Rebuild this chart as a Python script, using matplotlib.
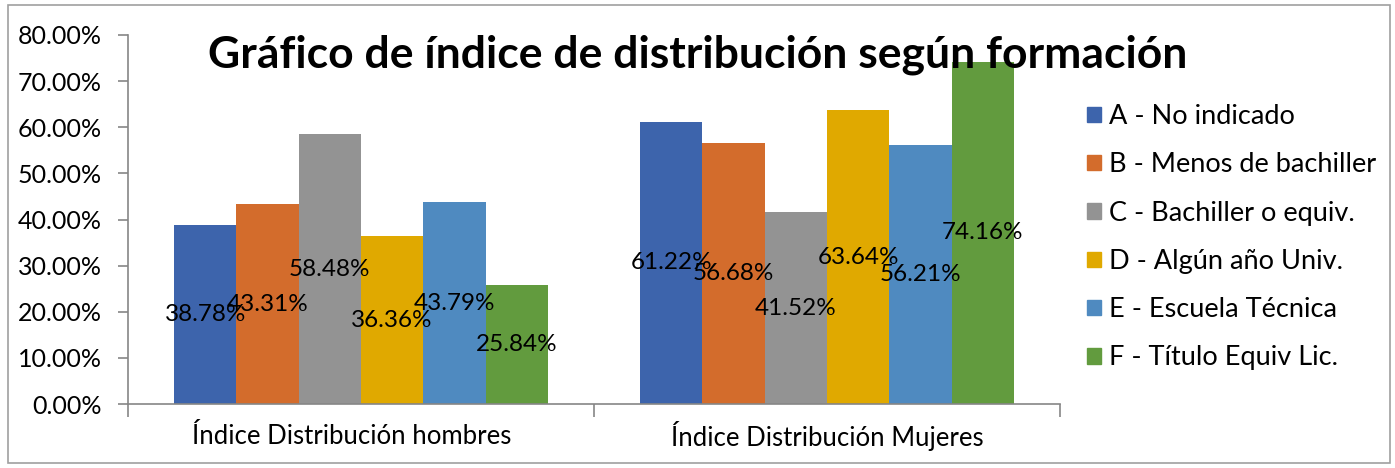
import matplotlib
matplotlib.use("Agg")
import matplotlib.pyplot as plt
import numpy as np
from matplotlib.patches import Rectangle

categories = ["Índice Distribución hombres", "Índice Distribución Mujeres"]
series = ["A - No indicado", "B - Menos de bachiller", "C - Bachiller o equiv.",
          "D - Algún año Univ.", "E - Escuela Técnica", "F - Título Equiv Lic."]
values = [
    [38.78, 61.22],
    [43.31, 56.68],
    [58.48, 41.52],
    [36.36, 63.64],
    [43.79, 56.21],
    [25.84, 74.16],
]
colors = ["#3D64AC", "#D36C2C", "#939393", "#E0A900", "#4F8AC0", "#629B3E"]
yticks = [0, 10, 20, 30, 40, 50, 60, 70, 80]
title = "Gráfico de índice de distribución según formación"

FONT = "Lato"
W, H = 1395, 468
fig = plt.figure(figsize=(W / 100, H / 100), dpi=100)
ax = fig.add_axes([128 / W, 1 - 404 / H, (1060 - 128) / W, (404 - 35) / H])

n = len(series)
bw = (374 / 466) / n
x = np.arange(len(categories))
for i, (s, v, c) in enumerate(zip(series, values, colors)):
    pos = x - 374 / 466 / 2 + bw * (i + 0.5)
    bars = ax.bar(pos, v, width=bw, color=c, label=s, zorder=2)
    for b, val in zip(bars, v):
        ax.text(b.get_x() + b.get_width() / 2, val / 2, f"{val:.2f}%",
                ha="center", va="center", fontsize=17.5, family=FONT, color="black", zorder=3)

ax.set_xlim(-0.5, len(categories) - 0.5)
ax.set_ylim(0, 80)
ax.set_yticks(yticks)
ax.set_yticklabels([f"{t:.2f}%" for t in yticks], family=FONT, fontsize=18)
ax.set_xticks([-0.5, 0.5, 1.5], minor=False)
ax.set_xticklabels([])
for xi, cat in zip(x, categories):
    ax.text(xi - (0.02 if xi == 0 else 0), -7.0, cat, ha="center", va="center",
            fontsize=18.5, family=FONT)

for sp in ["top", "right"]:
    ax.spines[sp].set_visible(False)
for sp in ["left", "bottom"]:
    ax.spines[sp].set_color("#868686")
    ax.spines[sp].set_linewidth(1.2)
ax.tick_params(axis="y", length=7, color="#868686", width=1.2, pad=12)
ax.tick_params(axis="x", length=9, color="#868686", width=1.2)

fig.text(698 / W, 1 - 55 / H, title, ha="center", va="center",
         fontsize=32, fontweight="bold", family=FONT)

handles = [Rectangle((0, 0), 1, 1, color=c) for c in colors]
leg = fig.legend(handles, series, loc="upper left", bbox_to_anchor=(1087 / W, 1 - 104 / H),
                 frameon=False, prop={"family": FONT, "size": 19.5},
                 handlelength=0.5, handleheight=0.5, handletextpad=0.3,
                 labelspacing=0.86, borderaxespad=0, borderpad=0)

fig.patches.append(Rectangle((8 / W, 5 / H), (1390 - 8) / W, (463 - 5) / H,
                             transform=fig.transFigure, fill=False,
                             edgecolor="#A0A0A0", linewidth=1.2))

fig.savefig("out.png", dpi=100)
